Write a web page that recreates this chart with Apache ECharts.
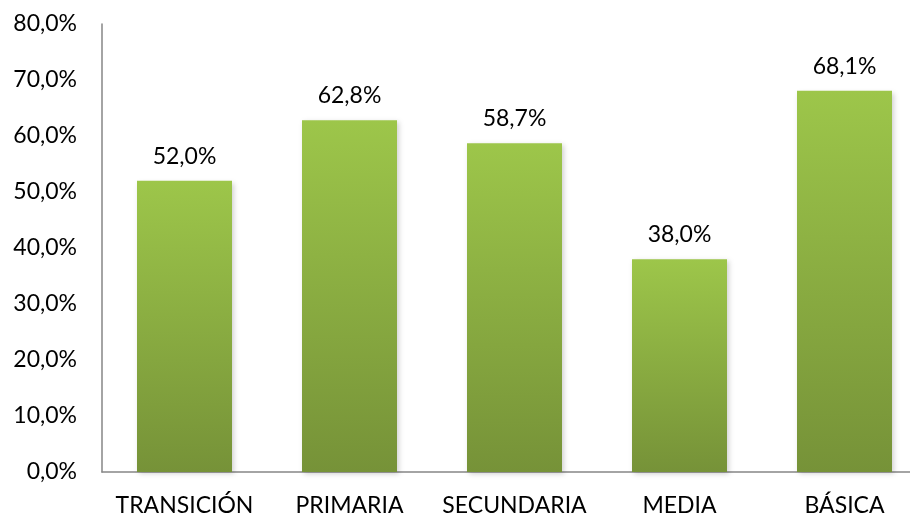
<!DOCTYPE html>
<html>
<head>
<meta charset="utf-8">
<script src="https://cdn.jsdelivr.net/npm/echarts@6/dist/echarts.min.js"></script>
<style>
  html, body { margin: 0; padding: 0; background: #fff; }
  #chart { width: 910px; height: 516px; }
</style>
</head>
<body>
<div id="chart"></div>
<script>
// datos
var categorias = ['TRANSICIÓN', 'PRIMARIA', 'SECUNDARIA', 'MEDIA', 'BÁSICA'];
var valores = [52.0, 62.8, 58.7, 38.0, 68.1];

function pct(v) {
  return v.toFixed(1).replace('.', ',') + '%';
}

var chart = echarts.init(document.getElementById('chart'));
chart.setOption({
  animation: false,
  textStyle: { fontFamily: 'Lato, "Open Sans", sans-serif' },
  grid: { left: 102, top: 24, right: -17, bottom: 44, containLabel: false, outerBoundsMode: 'none' },
  xAxis: {
    type: 'category',
    data: categorias,
    axisLine: { lineStyle: { color: '#868686', width: 1.5 } },
    axisTick: { show: false },
    axisLabel: { color: '#000', fontSize: 23, margin: 22, interval: 0 }
  },
  yAxis: {
    type: 'value',
    min: 0, max: 80, interval: 10,
    splitLine: { show: false },
    axisLine: { show: true, lineStyle: { color: '#868686', width: 1.5 } },
    axisTick: { show: false },
    axisLabel: { color: '#000', fontSize: 23, margin: 25, formatter: pct }
  },
  series: [{
    type: 'bar',
    data: valores,
    barWidth: 95,
    itemStyle: {
      color: new echarts.graphic.LinearGradient(0, 0, 0, 1, [
        { offset: 0, color: '#9dc64a' },
        { offset: 1, color: '#769238' }
      ]),
      shadowBlur: 5,
      shadowColor: 'rgba(0,0,0,0.18)',
      shadowOffsetX: 2,
      shadowOffsetY: 2
    },
    label: {
      show: true,
      position: 'top',
      distance: 13,
      color: '#000',
      fontSize: 23,
      formatter: function (p) { return pct(p.value); }
    }
  }]
});
</script>
</body>
</html>
